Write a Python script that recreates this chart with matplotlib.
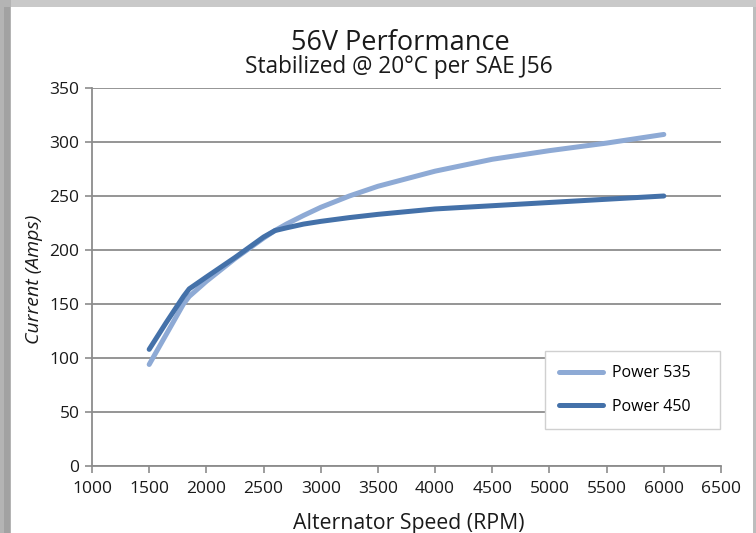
import matplotlib
matplotlib.use("Agg")
import matplotlib.pyplot as plt
from matplotlib.patches import Rectangle

rpm = [1500, 1650, 1800, 1850, 2000, 2250, 2500, 2600, 2700, 2850, 3000, 3250, 3500, 4000, 4500, 5000, 5500, 6000]
power_535 = [94, 122, 150, 157, 171, 192, 211, 218, 224, 232, 239.5, 250, 259, 273, 284, 292, 299, 307]
power_450 = [108, 133, 157, 164, 175, 193, 212, 218, 220.5, 224, 226.5, 230, 233, 238, 241, 244, 247, 250]
x_ticks = [1000, 1500, 2000, 2500, 3000, 3500, 4000, 4500, 5000, 5500, 6000, 6500]
y_ticks = [0, 50, 100, 150, 200, 250, 300, 350]

plt.rcParams['font.family'] = ['Open Sans', 'DejaVu Sans']

W, H = 756, 533
fig = plt.figure(figsize=(W / 100, H / 100), dpi=100)
fig.patch.set_facecolor('#c9c9c9')

# window-like frame
for (x0, y0, w, h, col) in [(0, 0, 11, H, '#b4b4b4'), (4, 0, 6, H - 7, '#a2a2a2'),
                             (11, 0, 742, H - 7, 'white'), (753, 0, 3, H - 7, '#bdbdbd')]:
    fig.patches.append(Rectangle((x0 / W, y0 / H), w / W, h / H, transform=fig.transFigure,
                                 facecolor=col, edgecolor='none', zorder=-10))

L, R, T, B = 92, 721, 88, 466
ax = fig.add_axes([L / W, 1 - B / H, (R - L) / W, (B - T) / H])
ax.set_zorder(5)
ax.set_facecolor('none')

c_light = '#8eaad5'
c_dark = '#4471a9'
ax.plot(rpm, power_535, color=c_light, lw=3.6, solid_capstyle='round', solid_joinstyle='round', label='Power 535', zorder=3)
ax.plot(rpm, power_450, color=c_dark, lw=3.6, solid_capstyle='round', solid_joinstyle='round', label='Power 450', zorder=4)

ax.set_xlim(1000, 6500)
ax.set_ylim(0, 350)
ax.set_xticks(x_ticks)
ax.set_yticks(y_ticks)
ax.yaxis.grid(True, color='#8c8c8c', lw=1.3)
ax.set_axisbelow(True)
for s in ['top', 'right']:
    ax.spines[s].set_visible(False)
for s in ['left', 'bottom']:
    ax.spines[s].set_color('#8c8c8c')
    ax.spines[s].set_linewidth(1.3)
ax.tick_params(axis='both', color='#8c8c8c', length=5, width=1.2, labelsize=12.5, labelcolor='#1a1a1a', pad=4)
ax.tick_params(axis='x', pad=6)

fig.text(400 / W, 1 - 50 / H, '56V Performance', ha='center', va='baseline', fontsize=19.5, color='#1a1a1a')
fig.text(399 / W, 1 - 73 / H, 'Stabilized @ 20°C per SAE J56', ha='center', va='baseline', fontsize=16.3, color='#1a1a1a')
fig.text(409 / W, 1 - 529 / H, 'Alternator Speed (RPM)', ha='center', va='baseline', fontsize=15.3, color='#1a1a1a')
fig.text(34 / W, 1 - 279 / H, 'Current (Amps)', ha='center', va='center', rotation=90, fontsize=14, style='italic', color='#1a1a1a')

leg = ax.legend(loc='upper left', bbox_to_anchor=(545 / W, 1 - 427 / H, 175 / W, 76 / H), bbox_transform=fig.transFigure,
                mode='expand', fontsize=11.5, frameon=True, fancybox=False, edgecolor='#d0d0d0', framealpha=1,
                handlelength=2.7, handletextpad=0.6, labelspacing=1.1, borderpad=0.9, borderaxespad=0)
leg.get_frame().set_linewidth(1.0)

fig.savefig('out.png', dpi=100, facecolor=fig.get_facecolor())
